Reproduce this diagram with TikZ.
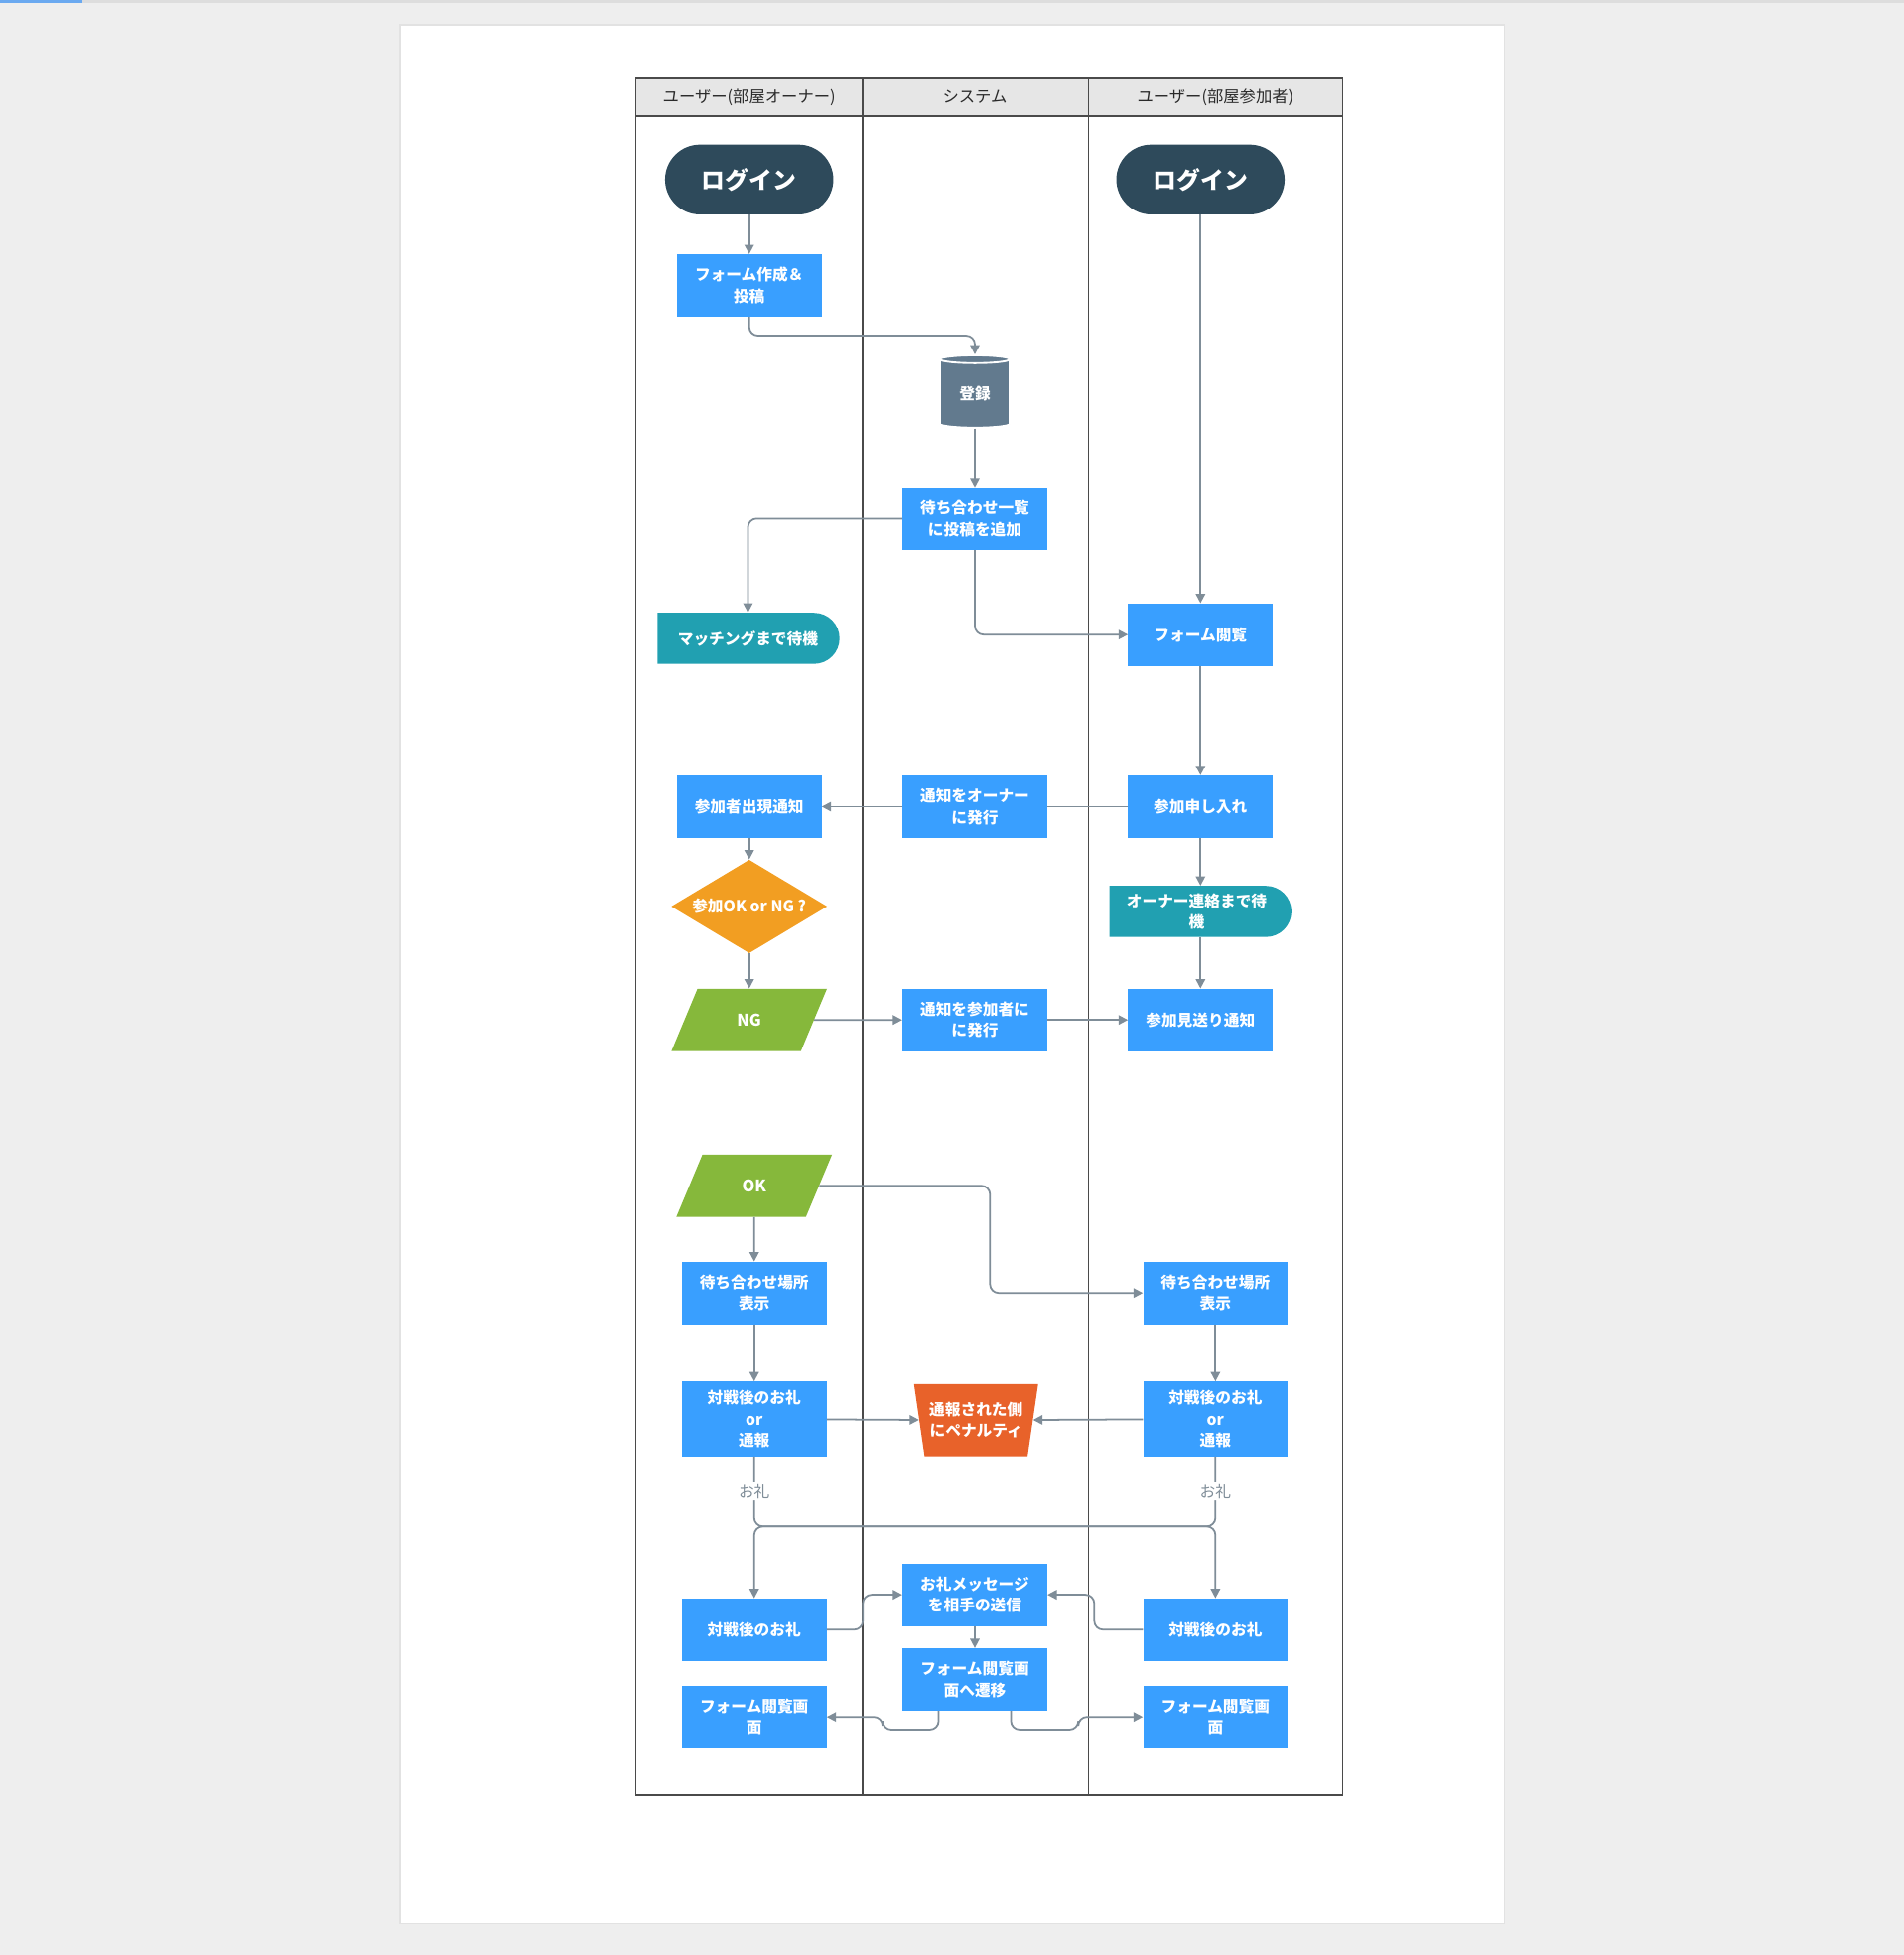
\documentclass[tikz,border=0pt]{standalone}
\usepackage{fontspec}
\setmainfont{Noto Sans CJK JP}
\usetikzlibrary{arrows.meta,shapes.geometric,shapes.misc}
\definecolor{bggray}{HTML}{EEEEEE}
\definecolor{topline}{HTML}{DDDDDD}
\definecolor{tabblue}{HTML}{6AA9F0}
\definecolor{pageline}{HTML}{E2E2E2}
\definecolor{hdrgray}{HTML}{E6E6E6}
\definecolor{lanegray}{HTML}{4A4A4A}
\definecolor{hdrtext}{HTML}{2A2A2A}
\definecolor{boxblue}{HTML}{399FFF}
\definecolor{navy}{HTML}{2E4A5B}
\definecolor{tealc}{HTML}{21A0B1}
\definecolor{orng}{HTML}{F29E22}
\definecolor{grn}{HTML}{86B83B}
\definecolor{redor}{HTML}{E8622A}
\definecolor{slate}{HTML}{627A8E}
\definecolor{linegray}{HTML}{7F8D98}

\begin{document}
\begin{tikzpicture}[x=1pt,y=-1pt,
  conn/.style={draw=linegray,line width=1.4pt,rounded corners=7pt,-{Triangle[length=7.5pt,width=7.5pt]}},
  plain/.style={draw=linegray,line width=1.4pt},
  hdr/.style={text=hdrtext,font=\fontsize{13}{15}\selectfont},
  proc/.style={rectangle,fill=boxblue,text=white,font=\bfseries\fontsize{12.5}{17}\selectfont,minimum width=116pt,minimum height=50pt,inner sep=0pt,align=center},
  term/.style={rectangle,rounded corners=28pt,fill=navy,text=white,font=\bfseries\fontsize{19}{22}\selectfont,minimum width=135pt,minimum height=56pt},
  waiting/.style={rounded rectangle,rounded rectangle left arc=none,fill=tealc,text=white,font=\bfseries\fontsize{12.5}{17}\selectfont,minimum width=146pt,minimum height=41pt,inner sep=0pt,align=center},
  judge/.style={diamond,aspect=1.67,fill=orng,text=white,font=\bfseries\fontsize{12.5}{14}\selectfont,minimum width=125pt,minimum height=75pt,inner sep=0pt},
  answer/.style={trapezium,trapezium left angle=64,trapezium right angle=116,trapezium stretches=true,fill=grn,text=white,font=\bfseries\fontsize{13}{15}\selectfont,minimum width=125pt,minimum height=50pt,inner sep=0pt},
  penalty/.style={trapezium,trapezium left angle=75,trapezium right angle=75,shape border rotate=180,trapezium stretches=true,fill=redor,text=white,font=\bfseries\fontsize{12.5}{17}\selectfont,minimum width=100pt,minimum height=58pt,inner sep=0pt,align=center},
  store/.style={cylinder,shape border rotate=90,aspect=0.25,cylinder uses custom fill,cylinder body fill=slate,cylinder end fill=slate,draw=white,line width=1.5pt,minimum width=56pt,minimum height=58pt,inner sep=0pt,text=white,font=\bfseries\fontsize{12.5}{14}\selectfont},
  thanks/.style={fill=white,text=linegray,font=\fontsize{12.5}{14}\selectfont,inner sep=1.5pt}
]
  \useasboundingbox (0,0) rectangle (1527,1568);
  \fill[bggray] (0,0) rectangle (1527,1568);
  \fill[topline] (0,0) rectangle (1527,2);
  \fill[tabblue] (0,0) rectangle (66,2);
  \filldraw[fill=white,draw=pageline,line width=1pt] (321,20) rectangle (1207,1543);

  \fill[hdrgray] (510,63) rectangle (1077,93);
  \draw[lanegray,line width=1.3pt] (510,63) rectangle (1077,1440);
  \draw[lanegray,line width=2pt] (510,93) -- (1077,93);
  \draw[lanegray,line width=2pt] (692,63) -- (692,1440);
  \draw[lanegray,line width=1pt] (873,63) -- (873,1440);
  \node[hdr] (h_owner) at (601,78) {ユーザー(部屋オーナー)};
  \node[hdr] (h_sys) at (782,78) {システム};
  \node[hdr] (h_part) at (975,78) {ユーザー(部屋参加者)};

  \node[term] (o_login) at (601,144) {ログイン};
  \node[term] (p_login) at (963,144) {ログイン};
  \node[proc] (o_form) at (601,229) {フォーム作成＆\\投稿};
  \node[store] (reg) at (782,316) {登録};
  \node[proc] (s_list) at (782,416) {待ち合わせ一覧\\に投稿を追加};
  \node[waiting] (o_wait) at (600,512) {マッチングまで待機};
  \node[proc] (p_view) at (963,509) {フォーム閲覧};
  \node[proc] (o_appear) at (601,647) {参加者出現通知};
  \node[proc] (s_notifyo) at (782,647) {通知をオーナー\\に発行};
  \node[proc] (p_apply) at (963,647) {参加申し入れ};
  \node[judge] (o_judge) at (601,727) {参加OK or NG ?};
  \node[waiting] (p_wait) at (960,731) {オーナー連絡まで待\\機};
  \node[answer] (o_ng) at (601,818) {NG};
  \node[proc] (s_notifyp) at (782,818) {通知を参加者に\\に発行};
  \node[proc] (p_decline) at (963,818) {参加見送り通知};
  \node[answer] (o_ok) at (605,951) {OK};
  \node[proc] (o_place) at (605,1037) {待ち合わせ場所\\表示};
  \node[proc] (p_place) at (975,1037) {待ち合わせ場所\\表示};
  \node[proc,minimum height=60pt] (o_after) at (605,1138) {対戦後のお礼\\or\\通報};
  \node[penalty] (s_penalty) at (783,1139) {通報された側\\にペナルティ};
  \node[proc,minimum height=60pt] (p_after) at (975,1138) {対戦後のお礼\\or\\通報};
  \node[proc] (s_msg) at (782,1279) {お礼メッセージ\\を相手の送信};
  \node[proc] (o_thanks) at (605,1307) {対戦後のお礼};
  \node[proc] (p_thanks) at (975,1307) {対戦後のお礼};
  \node[proc] (s_move) at (782,1347) {フォーム閲覧画\\面へ遷移};
  \node[proc] (o_view) at (605,1377) {フォーム閲覧画\\面};
  \node[proc] (p_view2) at (975,1377) {フォーム閲覧画\\面};

  \draw[conn] (o_login) -- (o_form);
  \draw[conn] (o_form.south) -- ++(0,15) -| (reg.north);
  \draw[conn] (reg) -- (s_list);
  \draw[conn] (s_list.west) -| (o_wait.north);
  \draw[conn] (s_list.south) |- (p_view.west);
  \draw[conn] (p_login) -- (p_view);
  \draw[conn] (p_view) -- (p_apply);
  \draw[plain] (p_apply) -- (s_notifyo);
  \draw[conn] (s_notifyo) -- (o_appear);
  \draw[conn] (p_apply.south) -- (p_apply.south |- p_wait.north);
  \draw[conn] (p_decline.north |- p_wait.south) -- (p_decline.north);
  \draw[conn] (o_appear) -- (o_judge);
  \draw[conn] (o_judge) -- (o_ng);
  \draw[conn] (o_ng) -- (s_notifyp);
  \draw[conn] (s_notifyp) -- (p_decline);
  \draw[conn] (o_ok.east) -- ++(137,0) |- (p_place.west);
  \draw[conn] (o_ok) -- (o_place);
  \draw[conn] (o_place) -- (o_after);
  \draw[conn] (p_place) -- (p_after);
  \draw[conn] (o_after) -- (s_penalty);
  \draw[conn] (p_after) -- (s_penalty);
  \draw[conn] (o_after.south) -- node[thanks] (l_othanks) {お礼} ++(0,56) -| (p_thanks.north);
  \draw[conn] (p_after.south) -- node[thanks] (l_pthanks) {お礼} ++(0,56) -| (o_thanks.north);
  \draw[conn] (o_thanks.east) -- ++(29,0) |- (s_msg.west);
  \draw[conn] (p_thanks.west) -- ++(-39,0) |- (s_msg.east);
  \draw[conn] (s_msg) -- (s_move);
  \draw[conn] ([xshift=-29pt]s_move.south) -- ++(0,15) -- ++(-45,0) |- (o_view.east);
  \draw[conn] ([xshift=29pt]s_move.south) -- ++(0,15) -- ++(54,0) |- (p_view2.west);
\end{tikzpicture}
\end{document}
